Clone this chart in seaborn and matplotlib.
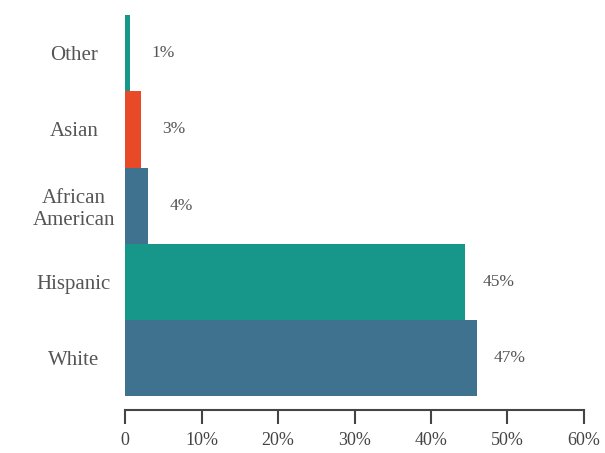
import matplotlib
matplotlib.use("Agg")
import matplotlib.pyplot as plt
import seaborn as sns
import pandas as pd

groups = ["Other", "Asian", "African\nAmerican", "Hispanic", "White"]
values = [0.6, 2.0, 3.0, 44.5, 46.0]
labels = ["1%", "3%", "4%", "45%", "47%"]
colors = ["#17968a", "#e84a27", "#3f728f", "#17968a", "#3f728f"]

df = pd.DataFrame({"group": groups, "value": values})

sns.set_style("white")
plt.rcParams["font.family"] = ["Liberation Serif", "DejaVu Serif"]
fig, ax = plt.subplots(figsize=(6.05, 4.53), dpi=100)
sns.barplot(data=df, x="value", y="group", hue="group", palette=colors,
            width=1.0, legend=False, ax=ax, saturation=1, linewidth=0)

for i, (v, lab) in enumerate(zip(values, labels)):
    ax.text(v + 4.3, i, lab, va="center", ha="center", fontsize=12.5,
            color="#555555")

ax.set_xlim(0, 60)
ax.set_ylim(4.68, -0.55)
ax.set_xticks(range(0, 61, 10))
ax.set_xticklabels(["0"] + [f"{t}%" for t in range(10, 61, 10)],
                   fontsize=13, color="#555555")
ax.tick_params(axis="y", labelsize=15, colors="#555555", length=0, pad=37)
ax.tick_params(axis="x", bottom=True, direction="out", length=10, width=1.5,
               colors="#444444", pad=6)
ax.set_xlabel("")
ax.set_ylabel("")
for s in ["top", "right", "left"]:
    ax.spines[s].set_visible(False)
ax.spines["bottom"].set_color("#444444")
ax.spines["bottom"].set_linewidth(1.5)
for t in ax.get_yticklabels():
    t.set_ha("center")
fig.subplots_adjust(left=0.207, right=0.965, top=0.975, bottom=0.095)
fig.savefig("out.png")
